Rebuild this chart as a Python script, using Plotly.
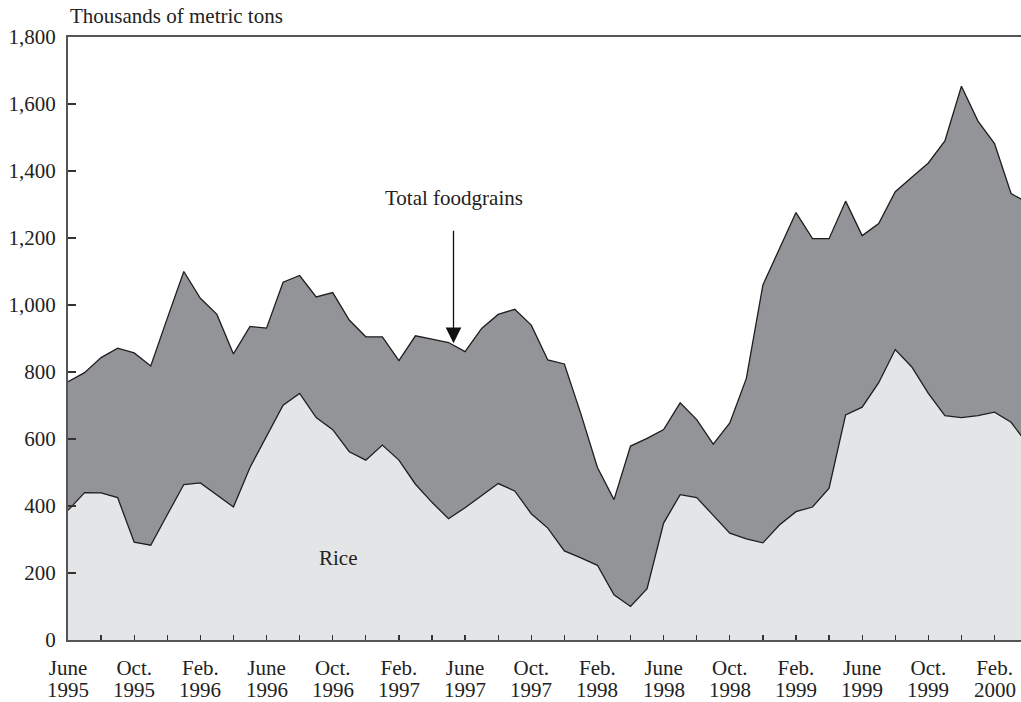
import plotly.graph_objects as go
import pandas as pd

months = [d.strftime("%Y-%m") for d in pd.date_range("1995-06-01", periods=59, freq="MS")]

total_foodgrains = [771, 798, 843, 871, 857, 818, 960, 1100, 1020, 972,
                    854, 936, 931, 1068, 1088, 1024, 1037, 955, 905, 905,
                    834, 908, 898, 888, 861, 930, 972, 987, 940, 836,
                    824, 675, 515, 419, 579, 602, 628, 708, 658, 585,
                    648, 781, 1060, 1170, 1276, 1198, 1198, 1310, 1207, 1243,
                    1338, 1381, 1424, 1490, 1653, 1549, 1482, 1333, 1305]

rice = [387, 440, 439, 425, 292, 283, 374, 464, 469, 432,
        397, 515, 609, 701, 736, 664, 628, 562, 537, 582,
        537, 465, 411, 362, 395, 432, 467, 445, 377, 334,
        266, 245, 223, 135, 100, 153, 349, 434, 425, 372,
        319, 302, 290, 343, 383, 397, 453, 672, 695, 768,
        867, 815, 736, 670, 664, 670, 680, 650, 584]

month_labels = ["June", "Oct.", "Feb.", "June", "Oct.", "Feb.", "June", "Oct.",
                "Feb.", "June", "Oct.", "Feb.", "June", "Oct.", "Feb."]
year_labels = ["1995", "1995", "1996", "1996", "1996", "1997", "1997", "1997",
               "1998", "1998", "1998", "1999", "1999", "1999", "2000"]

y_ticks = [0, 200, 400, 600, 800, 1000, 1200, 1400, 1600, 1800]

FONT = "Liberation Serif, Times New Roman, serif"
FS = 21
TXT = "#222"
LINE = "#1e1e1e"

tickvals = months[0:57:2]
ticktext = [month_labels[i // 2] if i % 2 == 0 else "" for i in range(len(tickvals))]
label_months = months[0:57:4]

fig = go.Figure()
fig.add_trace(go.Scatter(
    x=months, y=total_foodgrains, mode="lines", fill="tozeroy",
    fillcolor="#939497", line=dict(color=LINE, width=1.3),
    name="Total foodgrains", hoverinfo="skip"))
fig.add_trace(go.Scatter(
    x=months, y=rice, mode="lines", fill="tozeroy",
    fillcolor="#e4e5e7", line=dict(color=LINE, width=1.3),
    name="Rice", hoverinfo="skip"))

fig.update_layout(
    width=1021, height=702,
    margin=dict(l=68, r=0, t=37.4, b=62, pad=0),
    paper_bgcolor="white", plot_bgcolor="white",
    showlegend=False,
    font=dict(family=FONT, size=FS, color=TXT),
    xaxis=dict(
        type="category", range=[0, 57.6],
        tickmode="array", tickvals=tickvals, ticktext=ticktext,
        ticks="inside", ticklen=5, tickwidth=1.2, tickcolor="#333",
        showline=True, linecolor="#555", linewidth=2, mirror=True,
        showgrid=False, zeroline=False,
        ticklabelstandoff=8,
    ),
    yaxis=dict(
        range=[0, 1800], tickvals=y_ticks, tickformat=",",
        ticks="inside", ticklen=8, tickwidth=1.2, tickcolor="#333",
        showline=True, linecolor="#555", linewidth=2,
        showgrid=False, zeroline=False,
        ticklabelstandoff=6,
    ),
)

for m, yr in zip(label_months, year_labels):
    fig.add_annotation(
        text=yr, xref="x", yref="paper", x=m, y=0,
        yshift=-50, xanchor="center", yanchor="middle",
        showarrow=False, font=dict(family=FONT, size=FS, color=TXT))

fig.add_annotation(
    text="Thousands of metric tons", xref="paper", yref="paper",
    x=0, y=1 + 21 / 603, xanchor="left", yanchor="middle",
    showarrow=False, font=dict(family=FONT, size=FS, color=TXT))

fig.add_annotation(
    text="Total foodgrains", xref="x", yref="y",
    x=23.3, y=1320, xanchor="center", yanchor="middle",
    showarrow=False, font=dict(family=FONT, size=FS, color=TXT))

fig.add_annotation(
    text="", xref="x", yref="y", x=23.3, y=886,
    ax=0, ay=-114, showarrow=True,
    arrowhead=2, arrowsize=2.4, arrowwidth=1.3, arrowcolor="#111")

fig.add_annotation(
    text="Rice", xref="x", yref="y",
    x=16.3, y=245, xanchor="center", yanchor="middle",
    showarrow=False, font=dict(family=FONT, size=FS, color=TXT))

fig.write_html(
    "out.html",
    config={"displayModeBar": False, "staticPlot": True},
    post_script="document.body.style.margin='0';"
                "document.documentElement.style.overflow='hidden';"
                "document.body.style.overflow='hidden';")
